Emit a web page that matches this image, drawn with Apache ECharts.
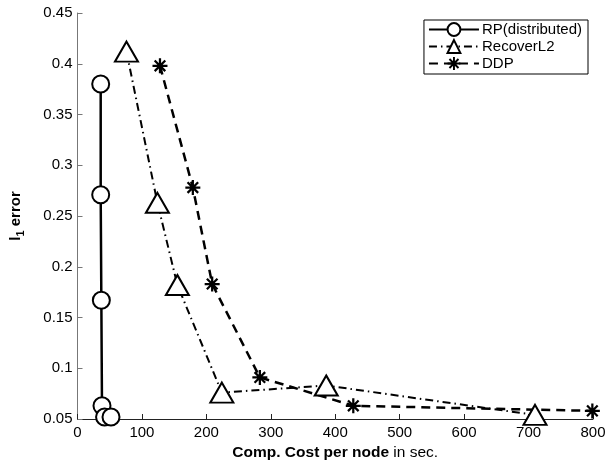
<!DOCTYPE html>
<html>
<head>
<meta charset="utf-8">
<script src="https://cdn.jsdelivr.net/npm/echarts@6/dist/echarts.min.js"></script>
<style>html,body{margin:0;padding:0;background:#fff}#c{width:610px;height:466px}</style>
</head>
<body>
<div id="c"></div>
<script>
// Data
var seriesNames = ['RP(distributed)', 'RecoverL2', 'DDP'];
var rpX = [36, 36, 37, 38, 42, 52];
var rpY = [0.380, 0.271, 0.167, 0.063, 0.052, 0.052];
var l2X = [76, 124, 155, 224, 386, 710];
var l2Y = [0.412, 0.263, 0.182, 0.076, 0.083, 0.054];
var ddpX = [128, 179, 209, 283, 428, 799];
var ddpY = [0.398, 0.278, 0.183, 0.091, 0.063, 0.058];
var xTicks = ['0', '100', '200', '300', '400', '500', '600', '700', '800'];
var yTicks = ['0.05', '0.1', '0.15', '0.2', '0.25', '0.3', '0.35', '0.4', '0.45'];

function pairs(xs, ys) { return xs.map(function (x, i) { return [x, ys[i]]; }); }

var FONT = 'Liberation Sans, Arial, Helvetica, sans-serif';
var starPath = 'path://M0 8.5L20 8.5L20 11.5L0 11.5Z M8.5 0L11.5 0L11.5 20L8.5 20Z M3.99 1.87L18.13 16.01L16.01 18.13L1.87 3.99Z M16.01 1.87L18.13 3.99L3.99 18.13L1.87 16.01Z';

var chart = echarts.init(document.getElementById('c'), null, {renderer: 'canvas'});
chart.setOption({
  animation: false,
  backgroundColor: '#fff',
  textStyle: {fontFamily: FONT},
  grid: {left: 77, right: 17, top: 13, bottom: 42, containLabel: false},
  legend: {
    orient: 'vertical',
    right: 22, top: 20,
    data: seriesNames,
    backgroundColor: '#fff',
    borderColor: '#000', borderWidth: 1,
    padding: [2, 6, 3, 4],
    itemGap: 2,
    itemWidth: 50, itemHeight: 16,
    textStyle: {fontSize: 15, color: '#000', fontFamily: FONT, padding: [0, 0, 0, -2]}
  },
  xAxis: {
    type: 'value', min: 0, max: 800, interval: 100,
    axisLine: {show: true, lineStyle: {color: '#222', width: 1}},
    axisTick: {show: true, inside: true, length: 5, lineStyle: {color: '#222'}},
    axisLabel: {fontSize: 15, color: '#000', fontFamily: FONT, margin: 6,
      formatter: function (v) { return xTicks[Math.round(v / 100)]; }},
    splitLine: {show: false},
    name: '{b|Comp. Cost per node}{n| in sec.}',
    nameLocation: 'middle', nameGap: 26,
    nameTextStyle: {rich: {
      b: {fontSize: 15.5, fontWeight: 'bold', color: '#000', fontFamily: FONT},
      n: {fontSize: 15.5, color: '#000', fontFamily: FONT}
    }}
  },
  yAxis: {
    type: 'value', min: 0.05, max: 0.45, interval: 0.05,
    axisLine: {show: true, lineStyle: {color: '#777', width: 1}},
    axisTick: {show: true, inside: true, length: 5, lineStyle: {color: '#777'}},
    axisLabel: {fontSize: 15, color: '#000', fontFamily: FONT, margin: 5,
      formatter: function (v) { return yTicks[Math.round((v - 0.05) / 0.05)]; }},
    splitLine: {show: false},
    name: '{b|l}{s|1}{b| error}',
    nameLocation: 'middle', nameGap: 51, nameRotate: 90,
    nameTextStyle: {rich: {
      b: {fontSize: 15, fontWeight: 'bold', color: '#000', fontFamily: FONT, lineHeight: 22, verticalAlign: 'middle'},
      s: {fontSize: 11, fontWeight: 'bold', color: '#000', fontFamily: FONT, lineHeight: 11, verticalAlign: 'bottom'}
    }}
  },
  series: [
    {
      name: seriesNames[0], type: 'line', data: pairs(rpX, rpY),
      symbol: 'emptyCircle', symbolSize: 17,
      lineStyle: {color: '#000', width: 2.5, type: 'solid'},
      itemStyle: {color: '#000', borderColor: '#000', borderWidth: 2.6},
      z: 3
    },
    {
      name: seriesNames[1], type: 'line', data: pairs(l2X, l2Y),
      symbol: 'emptyTriangle', symbolSize: [23, 20],
      lineStyle: {color: '#000', width: 2, type: [8, 4, 1.5, 4]},
      itemStyle: {color: '#000', borderColor: '#000', borderWidth: 3},
      z: 2
    },
    {
      name: seriesNames[2], type: 'line', data: pairs(ddpX, ddpY),
      symbol: starPath, symbolSize: 15,
      lineStyle: {color: '#000', width: 2.5, type: [9, 6]},
      itemStyle: {color: '#000', borderWidth: 0},
      z: 2
    }
  ]
});
</script>
</body>
</html>
